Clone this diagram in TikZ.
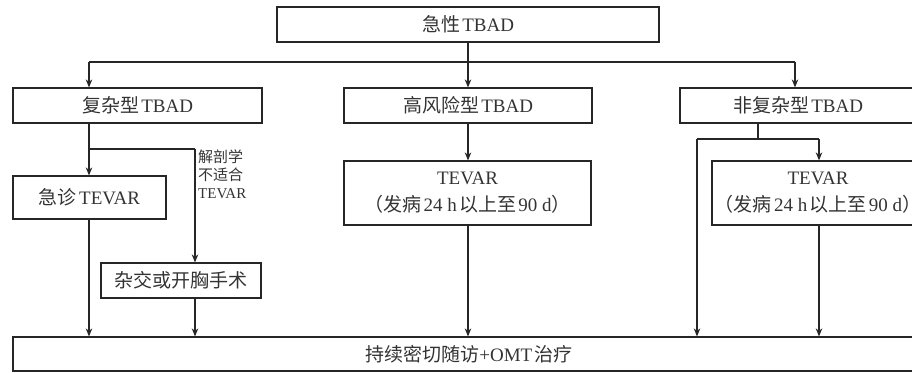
\documentclass[tikz,border=0pt]{standalone}
\usepackage{fontspec}
\setmainfont{Liberation Serif}
\newfontfamily\cjk{Noto Sans CJK SC}
\newcommand\zh[1]{{\cjk #1}}
\newcommand\gp{\hspace{0.12em}}
\usetikzlibrary{arrows.meta}
\begin{document}
\begin{tikzpicture}[x=1pt,y=-1pt,
  box/.style={draw=black!85, line width=1.2pt, minimum height=35pt, inner sep=0pt,
    font=\fontsize{19}{27}\selectfont, text=black!80, align=center},
  arr/.style={draw=black!85, line width=1.1pt, -{Stealth[length=8pt,width=6.5pt,inset=2.5pt]}},
  ln/.style={draw=black!85, line width=1.1pt},
  lbl/.style={font=\fontsize{15}{18}\selectfont, align=left, anchor=north west, inner sep=0pt, text=black!80}]
\useasboundingbox (0,0) rectangle (912,372);
\clip (0,0) rectangle (912,372);
\node[box, minimum width=382pt] (acute) at (468,24.5) {\zh{急性}\gp TBAD};
\node[box, minimum width=249pt] (comp) at (137.5,105.5) {\zh{复杂型}\gp TBAD};
\node[box, minimum width=248pt] (high) at (468,105.5) {\zh{高风险型}\gp TBAD};
\node[box, minimum width=236pt] (unc) at (798,105.5) {\zh{非复杂型}\gp TBAD};
\node[box, minimum width=153pt, minimum height=43pt] (emer) at (89.5,197.5) {\zh{急诊}\gp TEVAR};
\node[box, minimum width=160pt] (hyb) at (181,280.5) {\zh{杂交或开胸手术}};
\node[box, minimum width=247pt, minimum height=64pt] (tevm) at (467.5,193) {TEVAR\\\zh{（发病}\gp 24 h\gp\zh{以上至}\gp 90 d\zh{）}};
\node[box, minimum width=212pt, minimum height=64pt] (tevr) at (818,193) {TEVAR\\\zh{（发病}\gp 24 h\gp\zh{以上至}\gp 90 d\zh{）}};
\node[box, minimum width=912pt, minimum height=34pt] (fol) at (469,354) {\zh{持续密切随访}+OMT\gp\zh{治疗}};
\node[lbl] (anat) at (198,150) {\zh{解剖学}\\\zh{不适合}\\TEVAR};
% top distribution
\coordinate (jl) at (89,62);
\coordinate (jr) at (795,62);
\draw[ln] (jl) -- (jr);
\draw[arr] (acute.south) -- (high.north);
\draw[arr] (jl) -- (jl |- comp.north);
\draw[arr] (jr) -- (jr |- unc.north);
% complicated branch
\coordinate (cb) at (89,149);
\coordinate (cbr) at (195,149);
\draw[ln] (comp.south -| cb) -- (cb) -- (cbr);
\draw[arr] (cb) -- (cb |- emer.north);
\draw[arr] (cbr) -- (cbr |- hyb.north);
\draw[arr] (emer.south -| cb) -- (cb |- fol.north);
\draw[arr] (hyb.south -| cbr) -- (cbr |- fol.north);
% high risk branch
\draw[arr] (high.south) -- (tevm.north -| high.south);
\draw[arr] (tevm.south -| high.south) -- (fol.north -| high.south);
% uncomplicated branch
\coordinate (ub) at (758,139);
\coordinate (ul) at (697,139);
\coordinate (ur) at (819,139);
\draw[ln] (unc.south -| ub) -- (ub);
\draw[ln] (ul) -- (ur);
\draw[arr] (ur) -- (ur |- tevr.north);
\draw[arr] (ul) -- (ul |- fol.north);
\draw[arr] (tevr.south -| ur) -- (ur |- fol.north);
\end{tikzpicture}
\end{document}
